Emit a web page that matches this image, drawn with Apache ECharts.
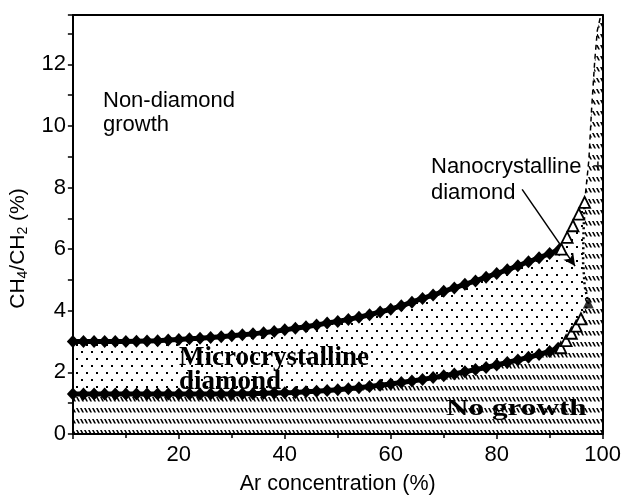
<!DOCTYPE html>
<html>
<head>
<meta charset="utf-8">
<script src="https://cdn.jsdelivr.net/npm/echarts@6/dist/echarts.min.js"></script>
<style>html,body{margin:0;padding:0;background:#fff}#c{width:624px;height:500px}</style>
</head>
<body>
<div id="c"></div>
<script>
// ---- data ----
const upperX = [0,2,4,6,8,10,12,14,16,18,20,22,24,26,28,30,32,34,36,38,40,42,44,46,48,50,52,54,56,58,60,62,64,66,68,70,72,74,76,78,80,82,84,86,88,90,91.8];
const upperY = [3.00,3.00,3.00,3.00,3.00,3.00,3.01,3.02,3.03,3.05,3.07,3.09,3.11,3.13,3.16,3.19,3.22,3.25,3.29,3.33,3.38,3.43,3.48,3.54,3.60,3.65,3.72,3.79,3.87,3.96,4.05,4.16,4.28,4.40,4.51,4.63,4.74,4.86,4.97,5.09,5.21,5.33,5.46,5.59,5.72,5.86,5.98];
const lowerX = [0,2,4,6,8,10,12,14,16,18,20,22,24,26,28,30,32,34,36,38,40,42,44,46,48,50,52,54,56,58,60,62,64,66,68,70,72,74,76,78,80,82,84,86,88,90,91.6];
const lowerY = [1.30,1.30,1.30,1.30,1.30,1.30,1.30,1.30,1.30,1.30,1.30,1.30,1.30,1.30,1.30,1.30,1.31,1.31,1.32,1.33,1.34,1.35,1.37,1.39,1.41,1.44,1.47,1.50,1.54,1.58,1.62,1.67,1.72,1.77,1.83,1.89,1.95,2.02,2.09,2.16,2.24,2.32,2.40,2.49,2.58,2.68,2.78];
const nanoUpperX = [92.2,93.3,94.4,95.5,96.6];
const nanoUpperY = [6.00,6.38,6.76,7.14,7.52];
const nanoLowerX = [92.1,93.1,94.1,95.0,95.9];
const nanoLowerY = [2.80,3.03,3.27,3.50,3.74];
const filledTriX = [97.3];
const filledTriY = [4.25];
const plusX = [99.1];
const plusY = [8.7];
const edgeX = [96.6,97.4,97.9,98.5,99.0,99.6,100];
const edgeY = [7.52,8.9,10.5,12.1,13.1,13.55,13.6];
const nanoEdgeX = [96.6,96.4,96.3,96.6,97.3,95.9];
const nanoEdgeY = [7.52,6.6,5.6,4.8,4.25,3.74];
const arrowFrom = [84.8,7.94];
const arrowTo = [94.8,5.45];
const xTicks = [20,40,60,80,100];
const yTicks = [0,2,4,6,8,10,12];

const zip = (xs, ys) => xs.map((x, i) => [x, ys[i]]);

function makeHatch() {
  const c = document.createElement('canvas');
  c.width = 4; c.height = 11;
  const g = c.getContext('2d');
  g.fillStyle = '#fff'; g.fillRect(0, 0, 4, 11);
  g.fillStyle = '#000';
  g.beginPath();
  g.moveTo(0, 1); g.lineTo(1.7, 1); g.lineTo(4, 5.5); g.lineTo(2.3, 5.5); g.closePath();
  g.fill();
  return c;
}
function makeDots() {
  const c = document.createElement('canvas');
  c.width = 10; c.height = 14;
  const g = c.getContext('2d');
  g.fillStyle = '#fff'; g.fillRect(0, 0, 10, 14);
  g.fillStyle = '#000';
  g.fillRect(1, 1, 2, 2);
  g.fillRect(6, 8, 2, 2);
  return c;
}
const hatch = { image: makeHatch(), repeat: 'repeat' };
const dots = { image: makeDots(), repeat: 'repeat' };

const sans = '"Liberation Sans", Arial, sans-serif';
const serif = '"Liberation Serif", "Times New Roman", serif';

const chart = echarts.init(document.getElementById('c'), null, { renderer: 'canvas' });
const option = {
  animation: false,
  backgroundColor: '#fff',
  grid: { left: 72, right: 14, top: 15, bottom: 60 },
  xAxis: [{
    type: 'value', min: 0, max: 100, interval: 20, z: 10,
    axisLine: { onZero: false, lineStyle: { color: '#000', width: 2 } },
    axisTick: { length: 5, lineStyle: { color: '#000', width: 1.5 } },
    minorTick: { show: true, splitNumber: 2, length: 4, lineStyle: { color: '#000', width: 1.5 } },
    splitLine: { show: false },
    axisLabel: { color: '#000', fontSize: 22, fontFamily: sans, margin: 10,
      formatter: v => (xTicks.indexOf(v) >= 0 ? String(v) : '') },
    name: 'Ar concentration (%)', nameLocation: 'middle', nameGap: 39,
    nameTextStyle: { color: '#000', fontSize: 21.5, fontFamily: sans }
  }, {
    type: 'value', min: 0, max: 100, position: 'top', z: 10,
    axisLine: { show: true, onZero: false, lineStyle: { color: '#000', width: 2 } },
    axisTick: { show: false }, axisLabel: { show: false }, splitLine: { show: false }
  }],
  yAxis: [{
    type: 'value', min: 0, max: 13.6, interval: 2, z: 10,
    axisLine: { onZero: false, lineStyle: { color: '#000', width: 2 } },
    axisTick: { length: 5, lineStyle: { color: '#000', width: 1.5 } },
    minorTick: { show: true, splitNumber: 2, length: 5, lineStyle: { color: '#000', width: 1.5 } },
    splitLine: { show: false },
    axisLabel: { color: '#000', fontSize: 22, fontFamily: sans, margin: 7,
      formatter: v => (yTicks.indexOf(v) >= 0 ? String(v) : '') },
    name: '{a|CH}{s|4}{a|/CH}{s|2}{a| (%)}', nameLocation: 'middle', nameGap: 40,
    nameTextStyle: { color: '#000', fontSize: 21, fontFamily: sans, padding: [0, 48, 0, 0],
      rich: { a: { fontSize: 21, fontFamily: sans, color: '#000' },
              s: { fontSize: 14, fontFamily: sans, color: '#000', padding: [10, 0, 0, 0] } } }
  }, {
    type: 'value', min: 0, max: 13.6, position: 'right', z: 10,
    axisLine: { show: true, onZero: false, lineStyle: { color: '#000', width: 2 } },
    axisTick: { show: false }, axisLabel: { show: false }, splitLine: { show: false }
  }],
  series: [
    { type: 'line', z: 1, data: zip(edgeX, edgeY), symbol: 'none', lineStyle: { width: 0 },
      areaStyle: { color: hatch, opacity: 1 }, silent: true },
    { type: 'line', z: 2, data: zip(upperX, upperY).concat(zip(nanoUpperX, nanoUpperY)), symbol: 'none',
      lineStyle: { width: 0 }, areaStyle: { color: dots, opacity: 1 }, silent: true },
    { type: 'line', z: 3, data: zip(lowerX, lowerY).concat(zip(nanoLowerX, nanoLowerY), zip(filledTriX, filledTriY)), symbol: 'none',
      lineStyle: { width: 0 }, areaStyle: { color: hatch, opacity: 1 }, silent: true },
    { type: 'line', z: 4, data: zip(edgeX, edgeY), symbol: 'none',
      lineStyle: { color: '#000', width: 1.5, type: [5, 4] }, silent: true,
      markLine: { silent: true, symbol: ['none', 'arrow'], symbolSize: [9, 12],
        lineStyle: { color: '#000', type: 'solid', width: 1.5 }, label: { show: false },
        data: [[{ coord: arrowFrom }, { coord: arrowTo }]] } },
    { type: 'line', z: 4, data: zip(nanoEdgeX, nanoEdgeY), symbol: 'none',
      lineStyle: { color: '#000', width: 2.5, type: [2, 3] }, silent: true },
    { type: 'line', z: 5, data: zip(upperX, upperY), symbol: 'diamond', symbolSize: [12, 13], showAllSymbol: true,
      itemStyle: { color: '#000' }, lineStyle: { color: '#000', width: 5 }, silent: true },
    { type: 'line', z: 5, data: zip(lowerX, lowerY), symbol: 'diamond', symbolSize: [12, 13], showAllSymbol: true,
      itemStyle: { color: '#000' }, lineStyle: { color: '#000', width: 5 }, silent: true },
    { type: 'line', z: 6, data: zip(nanoUpperX, nanoUpperY), symbol: 'triangle', symbolSize: 11, showAllSymbol: true,
      itemStyle: { color: '#fff', borderColor: '#000', borderWidth: 1.8 }, lineStyle: { width: 0 }, silent: true },
    { type: 'line', z: 6, data: zip(nanoLowerX, nanoLowerY), symbol: 'triangle', symbolSize: 11, showAllSymbol: true,
      itemStyle: { color: '#fff', borderColor: '#000', borderWidth: 1.8 }, lineStyle: { width: 0 }, silent: true },
    { type: 'scatter', z: 6, data: zip(filledTriX, filledTriY), symbol: 'triangle', symbolSize: 11,
      itemStyle: { color: '#000' }, silent: true },
    { type: 'scatter', z: 6, data: zip(plusX, plusY), symbol: 'path://M4,0L6,0L6,4L10,4L10,6L6,6L6,10L4,10L4,6L0,6L0,4L4,4Z', symbolSize: 9,
      itemStyle: { color: '#000' }, silent: true }
  ],
  graphic: [
    { type: 'text', z: 100, x: 103, y: 101, style: { text: 'Non-diamond', font: '22px ' + sans, fill: '#000', verticalAlign: 'middle' } },
    { type: 'text', z: 100, x: 103, y: 125, style: { text: 'growth', font: '22px ' + sans, fill: '#000', verticalAlign: 'middle' } },
    { type: 'text', z: 100, x: 431, y: 167, style: { text: 'Nanocrystalline', font: '22px ' + sans, fill: '#000', verticalAlign: 'middle' } },
    { type: 'text', z: 100, x: 431, y: 193, style: { text: 'diamond', font: '22px ' + sans, fill: '#000', verticalAlign: 'middle' } },
    { type: 'text', z: 100, x: 179, y: 358, style: { text: 'Microcrystalline', font: 'bold 27px ' + serif, fill: '#000', verticalAlign: 'middle' } },
    { type: 'text', z: 100, x: 179, y: 382, style: { text: 'diamond', font: 'bold 27px ' + serif, fill: '#000', verticalAlign: 'middle' } },
    { type: 'text', z: 100, x: 446, y: 409, scaleX: 1.3, style: { text: 'No growth', font: 'bold 24px ' + serif, fill: '#000', verticalAlign: 'middle' } }
  ]
};
chart.setOption(option);
</script>
</body>
</html>
